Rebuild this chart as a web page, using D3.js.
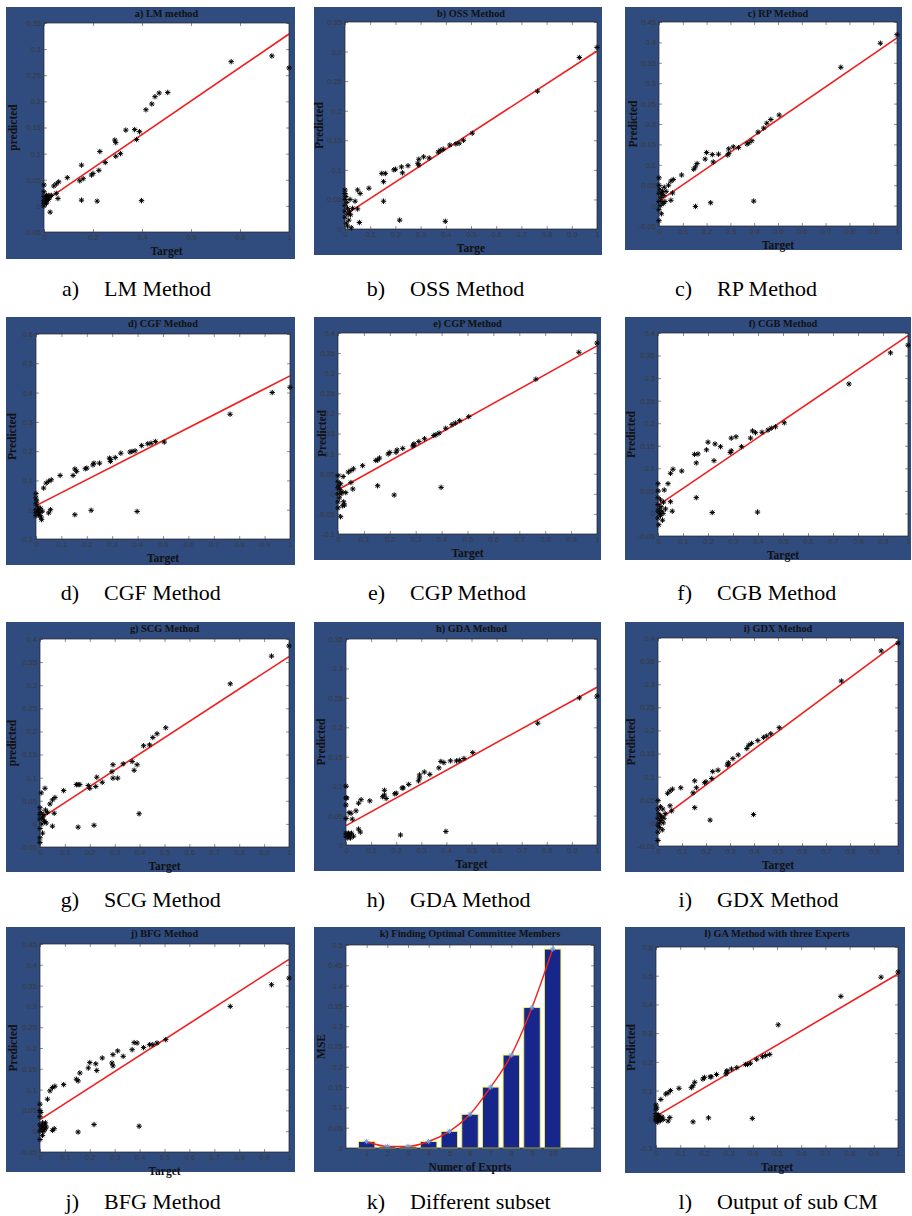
<!DOCTYPE html>
<html>
<head>
<meta charset="utf-8">
<script src="https://cdn.jsdelivr.net/npm/d3@7"></script>
<style>
  body { margin: 0; background: #fff; }
  svg { display: block; }
  .tick text { font-family: "Liberation Sans", Arial, sans-serif; font-size: 7.6px; fill: #3a3a3a; }
  .tick line { stroke: #444; stroke-width: 0.6; }
</style>
</head>
<body>
<svg id="chart" width="912" height="1216"></svg>
<script>
// shared targets of the test set (same for every method)
var target = [
  0, 0, 0, 0, 0, 0, 0.003, 0.005, 0.007, 0.01, 0.01, 0.012, 0.015, 0.018, 0.02, 0.022, 0.025, 0.03,
  0.04, 0.05, 0.05, 0.057, 0.06, 0.095,
  0.146, 0.153, 0.153, 0.16,
  0.194, 0.2, 0.217, 0.224, 0.228, 0.25,
  0.289, 0.293, 0.293, 0.312, 0.334,
  0.37, 0.378, 0.39, 0.398,
  0.416, 0.44, 0.453, 0.47, 0.505,
  0.764, 0.93, 1.0
];

// predicted values per training method
var predLM = [0.04, 0.027, 0.018, 0.01, 0.005, 0.0, 0.012, 0.008, 0.015, 0.02, 0.005, 0.01, 0.018, 0.012, 0.02, 0.015, -0.012, 0.02,
  0.038, 0.042, 0.024, 0.014, 0.046, 0.054, 0.048, 0.078, 0.011, 0.052,
  0.059, 0.062, 0.009, 0.068, 0.104, 0.083, 0.126, 0.121, 0.095, 0.10, 0.145,
  0.146, 0.127, 0.142, 0.01, 0.184, 0.195, 0.209, 0.216, 0.217, 0.276, 0.287, 0.264];
var predOSS = [0.066, 0.06, 0.05, 0.04, 0.03, 0.02, 0.055, 0.01, 0.045, 0.035, 0.005, 0.025, 0.015, 0.03, 0.05, 0.024, 0.002, 0.035,
  0.047, 0.034, 0.066, 0.011, 0.06, 0.069, 0.094, 0.08, 0.047, 0.094,
  0.10, 0.101, 0.015, 0.105, 0.095, 0.107, 0.111, 0.118, 0.108, 0.122, 0.12,
  0.130, 0.133, 0.135, 0.013, 0.142, 0.144, 0.145, 0.15, 0.162, 0.233, 0.29, 0.307];
var predRP = [0.068, 0.05, 0.03, 0.01, -0.01, -0.037, 0.04, 0.0, 0.02, 0.03, -0.02, 0.01, 0.035, 0.005, 0.025, 0.045, 0.01, 0.035,
  0.05, 0.06, 0.013, 0.031, 0.064, 0.075, 0.089, 0.095, -0.002, 0.103,
  0.114, 0.13, 0.007, 0.125, 0.107, 0.126, 0.124, 0.139, 0.128, 0.144, 0.142,
  0.151, 0.154, 0.159, 0.011, 0.18, 0.19, 0.202, 0.211, 0.222, 0.339, 0.398, 0.419];
var predCGF = [0.055, 0.04, 0.02, 0.0, -0.01, -0.02, 0.03, -0.005, 0.01, -0.015, 0.0, -0.02, -0.01, 0.005, -0.025, -0.034, -0.005, 0.074,
  0.091, 0.097, -0.011, 0.0, 0.102, 0.117, 0.117, 0.139, -0.017, 0.131,
  0.14, 0.142, -0.002, 0.153, 0.159, 0.159, 0.176, 0.165, 0.172, 0.178, 0.193,
  0.197, 0.199, 0.201, -0.006, 0.219, 0.225, 0.227, 0.233, 0.231, 0.326, 0.4, 0.418];
var predCGP = [0.045, 0.03, 0.015, 0.0, -0.02, -0.035, 0.02, -0.01, 0.01, -0.057, 0.025, 0.0, 0.005, -0.03, 0.043, -0.02, -0.028, 0.003,
  0.054, 0.058, 0.028, 0.012, 0.062, 0.07, 0.083, 0.084, 0.02, 0.089,
  0.099, 0.103, -0.003, 0.103, 0.109, 0.113, 0.119, 0.124, 0.121, 0.13, 0.137,
  0.145, 0.147, 0.151, 0.016, 0.163, 0.172, 0.176, 0.182, 0.192, 0.285, 0.352, 0.375];
var predCGB = [0.066, 0.05, 0.035, 0.02, 0.005, -0.01, -0.025, 0.01, 0.0, 0.03, -0.005, 0.015, 0.005, -0.015, 0.0, 0.025, 0.052, 0.01,
  0.066, 0.089, 0.026, 0.005, 0.098, 0.094, 0.131, 0.112, 0.035, 0.132,
  0.141, 0.158, 0.002, 0.117, 0.154, 0.148, 0.135, 0.139, 0.167, 0.17, 0.148,
  0.167, 0.183, 0.179, 0.003, 0.18, 0.185, 0.189, 0.192, 0.201, 0.287, 0.356, 0.373];
var predSCG = [0.035, 0.02, 0.01, -0.01, -0.03, -0.04, 0.025, 0.067, 0.0, 0.015, -0.02, 0.01, 0.02, 0.005, 0.077, 0.03, 0.002, 0.025,
  0.043, 0.052, -0.005, 0.023, 0.057, 0.072, 0.085, 0.085, -0.007, 0.085,
  0.083, 0.077, -0.003, 0.081, 0.101, 0.09, 0.113, 0.128, 0.099, 0.099, 0.13,
  0.135, 0.116, 0.128, 0.022, 0.169, 0.171, 0.187, 0.195, 0.208, 0.303, 0.363, 0.385];
var predGDA = [0.1, 0.08, 0.068, 0.045, 0.02, 0.015, 0.08, 0.018, 0.012, 0.02, 0.015, 0.055, 0.018, 0.012, 0.054, 0.02, 0.044, 0.015,
  0.058, 0.071, 0.027, 0.022, 0.077, 0.075, 0.082, 0.093, 0.085, 0.079,
  0.087, 0.088, 0.017, 0.097, 0.097, 0.103, 0.109, 0.114, 0.119, 0.124, 0.12,
  0.131, 0.142, 0.14, 0.023, 0.143, 0.143, 0.144, 0.147, 0.157, 0.207, 0.25, 0.253];
var predGDX = [0.048, 0.03, 0.01, -0.005, -0.02, -0.038, 0.02, 0.0, -0.01, 0.035, 0.015, 0.005, 0.013, -0.015, 0.03, 0.0, 0.01, 0.02,
  0.064, 0.069, 0.037, 0.026, 0.073, 0.076, 0.065, 0.091, 0.033, 0.076,
  0.087, 0.089, 0.006, 0.096, 0.111, 0.114, 0.125, 0.13, 0.127, 0.139, 0.147,
  0.161, 0.168, 0.172, 0.018, 0.178, 0.185, 0.188, 0.193, 0.206, 0.307, 0.372, 0.389];
var predBFG = [0.065, 0.05, 0.035, 0.015, 0.0, -0.02, 0.045, 0.005, 0.01, 0.02, -0.01, 0.01, 0.0, 0.015, 0.005, 0.02, 0.01, 0.077,
  0.097, 0.105, 0.002, 0.006, 0.108, 0.112, 0.125, 0.121, -0.002, 0.14,
  0.152, 0.165, 0.016, 0.162, 0.146, 0.176, 0.164, 0.157, 0.184, 0.193, 0.18,
  0.196, 0.213, 0.212, 0.012, 0.201, 0.208, 0.208, 0.212, 0.22, 0.3, 0.352, 0.368];
var predGA = [0.05, 0.035, 0.02, 0.0, -0.005, 0.01, 0.04, 0.005, -0.01, 0.015, 0.0, 0.01, 0.005, -0.005, 0.069, 0.0, 0.008, 0.0,
  0.088, 0.092, -0.006, 0.006, 0.1, 0.108, 0.11, 0.117, -0.009, 0.129,
  0.14, 0.146, 0.005, 0.148, 0.148, 0.156, 0.158, 0.169, 0.165, 0.175, 0.18,
  0.191, 0.191, 0.195, 0.003, 0.209, 0.218, 0.222, 0.226, 0.329, 0.428, 0.495, 0.513];

// fitted line: predicted value at target 0 and at target 1
var fitLM = [0.008, 0.329];
var fitOSS = [0.024, 0.301];
var fitRP = [0.011, 0.411];
var fitCGF = [0.014, 0.457];
var fitCGP = [0.01, 0.368];
var fitCGB = [0.018, 0.394];
var fitSCG = [0.011, 0.362];
var fitGDA = [0.033, 0.268];
var fitGDX = [0.005, 0.391];
var fitBFG = [0.028, 0.413];
var fitGA = [0.011, 0.506];

// committee size experiment
var expertCounts = [1, 2, 3, 4, 5, 6, 7, 8, 9, 10];
var expertMSE = [0.016, 0.004, 0.004, 0.016, 0.041, 0.083, 0.15, 0.229, 0.346, 0.49];

var frameColor = '#304b7e';
var svg = d3.select('#chart');

var panels = [
  {title: 'a) LM method', ylab: 'predicted', xlab: 'Target', pred: predLM, fit: fitLM, yDom: [-0.05, 0.35], yStep: 0.05, xStep: 0.2,
   frame: [6, 7, 289, 252], plot: [44, 23, 289, 232], ylabX: 13, cap: 'a)', capText: 'LM Method', capX: 79, capY: 296},
  {title: 'b) OSS Method', ylab: 'Predicted', xlab: 'Targe', pred: predOSS, fit: fitOSS, yDom: [0, 0.35], yStep: 0.05, xStep: 0.1,
   frame: [314, 7, 288, 248], plot: [345, 22, 597, 229], ylabX: 319, cap: 'b)', capText: 'OSS Method', capX: 385, capY: 296},
  {title: 'c) RP Method', ylab: 'Predicted', xlab: 'Target', pred: predRP, fit: fitRP, yDom: [-0.05, 0.45], yStep: 0.05, xStep: 0.1,
   frame: [625, 7, 277, 243], plot: [659, 22, 897, 226], ylabX: 633, cap: 'c)', capText: 'RP Method', capX: 692, capY: 296},
  {title: 'd) CGF Method', ylab: 'Predicted', xlab: 'Target', pred: predCGF, fit: fitCGF, yDom: [-0.1, 0.6], yStep: 0.1, xStep: 0.1,
   frame: [6, 317, 289, 248], plot: [36, 334, 290, 539], ylabX: 12, cap: 'd)', capText: 'CGF Method', capX: 79, capY: 600},
  {title: 'e) CGP Method', ylab: 'Predicted', xlab: 'Target', pred: predCGP, fit: fitCGP, yDom: [-0.1, 0.4], yStep: 0.05, xStep: 0.1,
   frame: [314, 317, 287, 243], plot: [338, 333, 597, 534], ylabX: 322, cap: 'e)', capText: 'CGP Method', capX: 385, capY: 600},
  {title: 'f) CGB Method', ylab: 'Predicted', xlab: 'Target', pred: predCGB, fit: fitCGB, yDom: [-0.05, 0.4], yStep: 0.05, xStep: 0.1,
   frame: [625, 317, 286, 243], plot: [658, 333, 908, 536], ylabX: 631, cap: 'f)', capText: 'CGB Method', capX: 692, capY: 600},
  {title: 'g) SCG Method', ylab: 'predicted', xlab: 'Target', pred: predSCG, fit: fitSCG, yDom: [-0.05, 0.4], yStep: 0.05, xStep: 0.1,
   frame: [6, 622, 289, 250], plot: [40, 639, 289, 847], ylabX: 12, cap: 'g)', capText: 'SCG Method', capX: 79, capY: 907},
  {title: 'h) GDA Method', ylab: 'Predicted', xlab: 'Target', pred: predGDA, fit: fitGDA, yDom: [0, 0.35], yStep: 0.05, xStep: 0.1,
   frame: [314, 622, 287, 249], plot: [346, 639, 597, 845], ylabX: 321, cap: 'h)', capText: 'GDA Method', capX: 385, capY: 907},
  {title: 'i) GDX Method', ylab: 'Predicted', xlab: 'Target', pred: predGDX, fit: fitGDX, yDom: [-0.05, 0.4], yStep: 0.05, xStep: 0.1,
   frame: [625, 622, 279, 250], plot: [658, 638, 898, 846], ylabX: 631, cap: 'i)', capText: 'GDX Method', capX: 692, capY: 907},
  {title: 'j) BFG Method', ylab: 'Predicted', xlab: 'Target', pred: predBFG, fit: fitBFG, yDom: [-0.05, 0.45], yStep: 0.05, xStep: 0.1,
   frame: [6, 927, 289, 245], plot: [40, 944, 289, 1152], ylabX: 13, cap: 'j)', capText: 'BFG Method', capX: 79, capY: 1209},
  {title: 'l) GA Method with three Experts', ylab: 'Predicted', xlab: 'Target', pred: predGA, fit: fitGA, yDom: [-0.1, 0.6], yStep: 0.1, xStep: 0.1,
   frame: [625, 927, 280, 246], plot: [656, 947, 898, 1148], ylabX: 631, cap: 'l)', capText: 'Output of sub CM', capX: 692, capY: 1209}
];

var barPanel = {title: 'k) Finding Optimal Committee Members', ylab: 'MSE', xlab: 'Numer of Exprts',
  frame: [314, 927, 287, 245], plot: [346, 945, 594, 1148], ylabX: 321, cap: 'k)', capText: 'Different subset', capX: 385, capY: 1209};

function steps(dom, step) {
  var n = Math.round((dom[1] - dom[0]) / step);
  return d3.range(n + 1).map(function(i) { return +(dom[0] + i * step).toFixed(3); });
}
var fmt = function(d) { return String(+d.toFixed(3)); };

// frame, white plot area, inward ticks on all four sides
function drawFrame(p, x, y, xTicks, yTicks) {
  var f = p.frame, l = p.plot[0], t = p.plot[1], r = p.plot[2], b = p.plot[3];
  svg.append('rect').attr('x', f[0]).attr('y', f[1]).attr('width', f[2]).attr('height', f[3]).attr('fill', frameColor);
  svg.append('rect').attr('x', l).attr('y', t).attr('width', r - l).attr('height', b - t).attr('fill', '#fff');

  var g = svg.append('g');
  g.append('g').attr('transform', 'translate(0,' + b + ')')
    .call(d3.axisBottom(x).tickValues(xTicks).tickFormat(fmt).tickSize(-3).tickSizeOuter(0).tickPadding(3));
  g.append('g').attr('transform', 'translate(' + l + ',0)')
    .call(d3.axisLeft(y).tickValues(yTicks).tickFormat(fmt).tickSize(-3).tickSizeOuter(0).tickPadding(3));
  g.append('g').attr('transform', 'translate(0,' + t + ')')
    .call(d3.axisTop(x).tickValues(xTicks).tickFormat('').tickSize(-3).tickSizeOuter(0));
  g.append('g').attr('transform', 'translate(' + r + ',0)')
    .call(d3.axisRight(y).tickValues(yTicks).tickFormat('').tickSize(-3).tickSizeOuter(0));
  g.selectAll('.domain').remove();
  return g;
}

function drawTexts(p) {
  var f = p.frame, l = p.plot[0], t = p.plot[1], r = p.plot[2], b = p.plot[3];
  svg.append('rect').attr('x', l).attr('y', t).attr('width', r - l).attr('height', b - t)
    .attr('fill', 'none').attr('stroke', '#222').attr('stroke-width', 0.7);
  svg.append('text').attr('x', (l + r) / 2).attr('y', f[1] + 10)
    .attr('text-anchor', 'middle').attr('font-family', 'Liberation Serif, serif').attr('font-weight', 'bold')
    .attr('font-size', 10.3).attr('fill', '#111').text(p.title);
  svg.append('text').attr('x', (l + r) / 2).attr('y', b + 23)
    .attr('text-anchor', 'middle').attr('font-family', 'Liberation Serif, serif').attr('font-weight', 'bold')
    .attr('font-size', 11.5).attr('fill', '#111').text(p.xlab);
  svg.append('text').attr('transform', 'translate(' + (p.ylabX + 4) + ',' + (t + b) / 2 + ') rotate(-90)')
    .attr('text-anchor', 'middle').attr('font-family', 'Liberation Serif, serif').attr('font-weight', 'bold')
    .attr('font-size', 11.5).attr('fill', '#111').text(p.ylab);
  // caption under the panel
  svg.append('text').attr('x', p.capX).attr('y', p.capY).attr('text-anchor', 'end')
    .attr('font-family', 'Liberation Serif, serif').attr('font-size', 22).attr('fill', '#000').text(p.cap);
  svg.append('text').attr('x', p.capX + 25).attr('y', p.capY)
    .attr('font-family', 'Liberation Serif, serif').attr('font-size', 22).attr('fill', '#000').text(p.capText);
}

var starPath = 'M-2.7,0H2.7M0,-2.7V2.7M-1.9,-1.9L1.9,1.9M-1.9,1.9L1.9,-1.9';

panels.forEach(function(p) {
  var x = d3.scaleLinear().domain([0, 1]).range([p.plot[0], p.plot[2]]);
  var y = d3.scaleLinear().domain(p.yDom).range([p.plot[3], p.plot[1]]);
  drawFrame(p, x, y, steps([0, 1], p.xStep), steps(p.yDom, p.yStep));

  svg.append('line')
    .attr('x1', x(0)).attr('y1', y(p.fit[0])).attr('x2', x(1)).attr('y2', y(p.fit[1]))
    .attr('stroke', '#f21d1d').attr('stroke-width', 1.6);

  svg.append('g').selectAll('path').data(target).join('path')
    .attr('transform', function(d, i) { return 'translate(' + x(d) + ',' + y(p.pred[i]) + ')'; })
    .attr('d', starPath).attr('stroke', '#000').attr('stroke-width', 1).attr('fill', 'none');

  drawTexts(p);
});

// bar chart of MSE against committee size
(function(p) {
  var x = d3.scaleLinear().domain([0, 12]).range([p.plot[0], p.plot[2]]);
  var y = d3.scaleLinear().domain([0, 0.5]).range([p.plot[3], p.plot[1]]);
  drawFrame(p, x, y, expertCounts, steps([0, 0.5], 0.05));
  var bw = x(0.8) - x(0);
  svg.append('g').selectAll('rect').data(expertCounts).join('rect')
    .attr('x', function(d) { return x(d) - bw / 2; })
    .attr('y', function(d, i) { return y(expertMSE[i]); })
    .attr('width', bw)
    .attr('height', function(d, i) { return y(0) - y(expertMSE[i]); })
    .attr('fill', '#16268a').attr('stroke', '#f0f060').attr('stroke-width', 1);
  var line = d3.line().curve(d3.curveMonotoneX)
    .x(function(d) { return x(d); })
    .y(function(d, i) { return y(expertMSE[i]); });
  svg.append('path').datum(expertCounts).attr('d', line)
    .attr('fill', 'none').attr('stroke', '#f22020').attr('stroke-width', 1.4);
  svg.append('g').selectAll('path').data(expertCounts).join('path')
    .attr('transform', function(d, i) { return 'translate(' + x(d) + ',' + y(expertMSE[i]) + ')'; })
    .attr('d', starPath).attr('stroke', '#6f9fe0').attr('stroke-width', 1).attr('fill', 'none');
  drawTexts(p);
})(barPanel);
</script>
</body>
</html>
